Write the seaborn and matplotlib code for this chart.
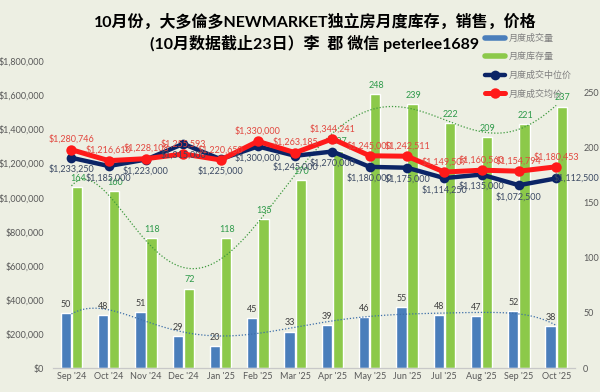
import numpy as np
import pandas as pd
import matplotlib
matplotlib.use("Agg")
import matplotlib.pyplot as plt
import seaborn as sns

# data
months = ["Sep '24", "Oct '24", "Nov '24", "Dec '24", "Jan '25", "Feb '25", "Mar '25",
          "Apr '25", "May '25", "Jun '25", "Jul '25", "Aug '25", "Sep '25", "Oct '25"]
sales = [50, 48, 51, 29, 20, 45, 33, 39, 46, 55, 48, 47, 52, 38]
inventory = [164, 160, 118, 72, 118, 135, 170, 197, 248, 239, 222, 209, 221, 237]
median_price = [1233250, 1185000, 1223000, 1315000, 1225000, 1300000, 1245000,
                1270000, 1180000, 1175000, 1114250, 1135000, 1072500, 1112500]
mean_price = [1280746, 1216610, 1228108, 1255593, 1220650, 1330000, 1263185,
              1344241, 1245000, 1242511, 1149507, 1160560, 1154794, 1180453]

title = "10月份，大多倫多NEWMARKET独立房月度库存，销售，价格\n(10月数据截止23日）李  郡 微信 peterlee1689"
lab_sales, lab_inv, lab_med, lab_mean = "月度成交量", "月度库存量", "月度成交中位价", "月度成交均价"

BG = "#edefe3"
BLUE = "#4a7ebb"
GREEN = "#8cc94a"
NAVY = "#0b2466"
RED = "#ff1a1a"
FONTS = ["Lato", "Noto Sans CJK SC", "DejaVu Sans"]

sns.set_theme(style="white")
plt.rcParams["font.family"] = FONTS

pos = np.arange(len(months))
bars = pd.DataFrame({"pos": np.tile(pos, 2),
                     "value": sales + inventory,
                     "series": [lab_sales] * len(months) + [lab_inv] * len(months)})
prices = pd.DataFrame({"pos": pos, "median": median_price, "mean": mean_price})

fig = plt.figure(figsize=(6, 3.92), dpi=100, facecolor=BG)
ax = fig.add_axes([0.088, 0.061, 0.87, 0.87])
ax.set_facecolor(BG)

sns.barplot(data=bars, x="pos", y="value", hue="series", order=list(pos),
            palette=[BLUE, GREEN], width=0.6, gap=0.08, saturation=1,
            legend=False, ax=ax, zorder=2)

# polynomial trend lines like Excel
xs = np.linspace(0, len(months) - 1, 200)
for vals, col in [(inventory, "#3f9a3f"), (sales, "#3d6fa8")]:
    coef = np.polyfit(pos, vals, 6)
    ax.plot(xs, np.polyval(coef, xs), color=col, ls=(0, (1, 1.5)), lw=0.9, zorder=3)

for p, v in zip(pos, sales):
    ax.annotate(str(v), (p - 0.15, v), xytext=(0, 3), textcoords="offset points",
                ha="center", va="bottom", fontsize=6.5, color="#404040", zorder=4)
for p, v in zip(pos, inventory):
    ax.annotate(str(v), (p + 0.17, v), xytext=(0, 3), textcoords="offset points",
                ha="center", va="bottom", fontsize=6.5, color="#2e9a4a", zorder=4)

ax.set_ylim(0, 309)
ax.set_xlim(-0.5, len(months) - 0.5)
ax.set_xticks(pos)
ax.set_xticklabels(months)
ax.set_xlabel("")
ax.set_ylabel("")

ax2 = ax.twinx()
sns.lineplot(data=prices, x="pos", y="median", color=NAVY, lw=3.2, marker="o",
             markersize=7, markeredgewidth=0, ax=ax2, zorder=5, label=lab_med)
sns.lineplot(data=prices, x="pos", y="mean", color=RED, lw=3.6, marker="o",
             markersize=7.5, markeredgewidth=0, ax=ax2, zorder=6, label=lab_mean)

for i, (p, v) in enumerate(zip(pos, median_price)):
    if i == len(months) - 1:
        ax2.annotate(f"${v:,}", (p, v), xytext=(-2, 0), textcoords="offset points",
                     ha="left", va="center", fontsize=6.5, color="#3c4a64", zorder=7)
    else:
        ax2.annotate(f"${v:,}", (p, v), xytext=(0, -5), textcoords="offset points",
                     ha="center", va="top", fontsize=6.5, color="#3c4a64", zorder=7)
for p, v in zip(pos, mean_price):
    ax2.annotate(f"${v:,}", (p, v), xytext=(0, 4), textcoords="offset points",
                 ha="center", va="bottom", fontsize=6.5, color="#e2473f", zorder=7)

ax2.set_ylim(0, 2000000)
ax2.set_ylabel("")

# twinx flips the first axis to the left, so set the sides afterwards
ax.yaxis.tick_right()
ax.set_yticks([0, 50, 100, 150, 200, 250])
ax.tick_params(axis="both", labelsize=6.5, labelcolor="#595959", length=0, pad=3)
ax.tick_params(axis="y", pad=6)
ax2.yaxis.tick_left()
ax2.set_yticks(np.arange(0, 1800001, 200000))
ax2.set_yticklabels([f"${v:,}" for v in range(0, 1800001, 200000)])
ax2.tick_params(axis="y", labelsize=6.5, labelcolor="#595959", length=0, pad=6)

for a in (ax, ax2):
    for s in ["top", "left", "right"]:
        a.spines[s].set_visible(False)
    a.spines["bottom"].set_color("#c8c8c8")
    a.spines["bottom"].set_linewidth(0.8)
    a.grid(False)

# legend with all four series
h1 = [plt.Line2D([], [], color=BLUE, lw=4), plt.Line2D([], [], color=GREEN, lw=4)]
h2, l2 = ax2.get_legend_handles_labels()
leg = ax2.legend(h1 + h2, [lab_sales, lab_inv] + l2, loc="upper left",
                 bbox_to_anchor=(0.812, 1.005), frameon=False, fontsize=6.5,
                 handlelength=2.2, labelspacing=1.05, handletextpad=0.5)
for t in leg.get_texts():
    t.set_color("#7f7f7f")

fig.text(0.525, 0.965, title, ha="center", va="top", fontsize=11.5,
         fontweight="bold", color="black", linespacing=1.35)

fig.savefig("out.png", dpi=100, facecolor=BG)
